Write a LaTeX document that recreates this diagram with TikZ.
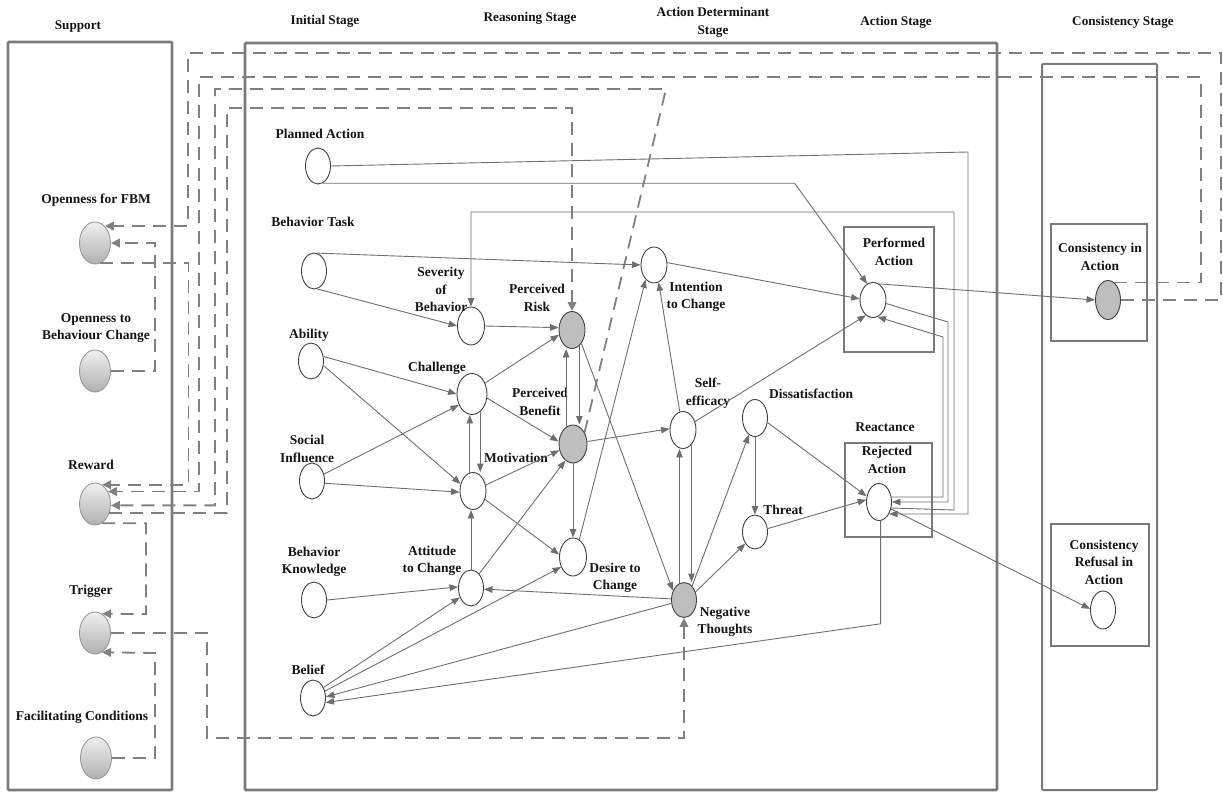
\documentclass[tikz,border=0pt]{standalone}
\usepackage{fontspec}
\setmainfont{Liberation Serif}
\usetikzlibrary{arrows.meta,shapes.geometric}
\definecolor{cl}{HTML}{6E6E6E}
\definecolor{dc}{HTML}{808080}
\definecolor{pc}{HTML}{7A7A7A}
\definecolor{gf}{HTML}{BEBEBE}
\definecolor{tx}{HTML}{141414}
\newcommand\labfont{\fontsize{13.5}{17.5}\selectfont\bfseries}
\newcommand\titfont{\fontsize{13.2}{18}\selectfont\bfseries}
\begin{document}
\begin{tikzpicture}[x=1pt,y=-1pt,
 nd/.style={ellipse, draw=black!75, line width=0.9pt, fill=white, inner sep=0pt, minimum width=25pt, minimum height=36pt},
 gnd/.style={nd, fill=gf},
 snd/.style={ellipse, draw=gray!80, line width=0.9pt, top color=gray!12, bottom color=gray!62, inner sep=0pt, minimum width=31pt, minimum height=42pt},
 lbl/.style={font=\labfont, text=tx, align=center, inner sep=0pt},
 ttl/.style={font=\titfont, text=tx, align=center, inner sep=0pt},
 panel/.style={draw=pc, line width=2.6pt, rounded corners=1pt},
 ibox/.style={draw=pc, line width=2.8pt},
 conn/.style={draw=cl, line width=0.9pt, -{Triangle[length=8.5pt,width=6.5pt]}},
 dl/.style={draw=dc, line width=1.8pt, dash pattern=on 13pt off 8pt, -{Triangle[length=9pt,width=8.5pt]}},
]
\path[use as bounding box] (0,0) rectangle (1223,794);
% panels
\draw[panel] (8,42) rectangle (172,790);
\draw[panel] (245,43) rectangle (997,790);
\draw[panel, line width=2pt] (1042,64) rectangle (1157,790);
\draw[ibox] (844,227) rectangle (934,352);
\draw[ibox] (845,443) rectangle (932,537);
\draw[ibox] (1051,224) rectangle (1147,341);
\draw[ibox] (1051,524) rectangle (1149,646);
% titles
\node[ttl] (tsup) at (78,27) {Support};
\node[ttl] (tini) at (325,21) {Initial Stage};
\node[ttl] (trea) at (530,18) {Reasoning Stage};
\node[ttl] (tdet) at (713,22) {Action Determinant\\Stage};
\node[ttl] (tact) at (896,22) {Action Stage};
\node[ttl] (tcon) at (1123,22) {Consistency Stage};
% nodes
\node[snd] (fbm) at (95,243) {};
\node[snd] (obc) at (95,371) {};
\node[snd] (rw) at (95,504) {};
\node[snd] (tr) at (95,633) {};
\node[snd] (fc) at (96,758) {};
\node[nd] (pa) at (318,166) {};
\node[nd] (bt) at (314,271) {};
\node[nd] (ab) at (311,361) {};
\node[nd] (si) at (312,481) {};
\node[nd] (bk) at (314,600) {};
\node[nd] (bl) at (313,698) {};
\node[nd, minimum width=27pt, minimum height=38pt] (sv) at (471,326) {};
\node[nd, minimum width=30pt, minimum height=41pt] (ch) at (472,394) {};
\node[nd, minimum width=26pt, minimum height=37pt] (mo) at (473,491) {};
\node[nd] (at) at (471,588) {};
\node[gnd, minimum width=26pt, minimum height=37pt] (pr) at (572,330) {};
\node[gnd, minimum width=28pt, minimum height=38pt] (pb) at (573,444) {};
\node[nd, minimum width=27pt, minimum height=38pt] (de) at (573,557) {};
\node[nd, minimum width=26pt] (int) at (654,265) {};
\node[nd, minimum width=26pt, minimum height=37pt] (se) at (683,430) {};
\node[nd, minimum height=37pt] (ds) at (755,418) {};
\node[nd, minimum height=34pt] (th) at (755,532) {};
\node[gnd, minimum height=35pt] (nt) at (684,600) {};
\node[nd, minimum width=26pt, minimum height=35pt] (pf) at (873,300) {};
\node[nd, minimum height=37pt] (rj) at (879,502) {};
\node[gnd, minimum height=39pt] (cia) at (1108,300) {};
\node[nd, minimum height=38pt] (cra) at (1103,610) {};
% labels
\node[lbl] (lfbm) at (96,200) {Openness for FBM};
\node[lbl] (lobc) at (96,328) {Openness to\\Behaviour Change};
\node[lbl] (lrw) at (91,465) {Reward};
\node[lbl] (ltr) at (91,591) {Trigger};
\node[lbl] (lfc) at (82,717) {Facilitating Conditions};
\node[lbl] (lpa) at (320,134) {Planned Action};
\node[lbl] (lbt) at (313,222) {Behavior Task};
\node[lbl] (lab) at (309,335) {Ability};
\node[lbl] (lsi) at (307,449) {Social\\Influence};
\node[lbl] (lbk) at (314,562) {Behavior\\Knowledge};
\node[lbl] (lbl) at (308,670) {Belief};
\node[lbl] (lsv) at (441,289.5) {Severity\\of\\Behavior};
\node[lbl] (lpr) at (537,298) {Perceived\\Risk};
\node[lbl] (lch) at (437,368) {Challenge};
\node[lbl] (lpb) at (540,402) {Perceived\\Benefit};
\node[lbl] (lmo) at (516,458) {Motivation};
\node[lbl] (lat) at (432,561) {Attitude\\to Change};
\node[lbl] (lde) at (615,578) {Desire to\\Change};
\node[lbl] (lint) at (696,297) {Intention\\to Change};
\node[lbl] (lse) at (708,393) {Self-\\efficacy};
\node[lbl] (lds) at (811,394) {Dissatisfaction};
\node[lbl] (lth) at (783,510) {Threat};
\node[lbl] (lnt) at (725,622) {Negative\\Thoughts};
\node[lbl] (lpf) at (894,252) {Performed\\Action};
\node[lbl] (lre) at (885,427) {Reactance};
\node[lbl] (lrj) at (887,460) {Rejected\\Action};
\node[lbl] (lcia) at (1100,257) {Consistency in\\Action};
\node[lbl] (lcra) at (1104,562) {Consistency\\Refusal in\\Action};
% dashed connectors
\draw[dl] (cia.east) -- (1221,300) |- (188,53) |- (fbm.60);
\draw[dl] (cia.70) -- ++(87,0) |- (199,77) |- (rw.44);
\draw[dl] (pb.45) -- (666,89) -- (215,89) |- (rw.-5);
\draw[dl] (rw.-33) -| (227,108) -| (pr.north);
\draw[dl] (rw.-70) -| (146,614) -- (tr.70);
\draw[dl] (fc.east) -| (155,653) -- (tr.-70);
\draw[dl] (obc.east) -| (155,243) -- (fbm.east);
\draw[dl] (fbm.-75) -- ++(88,0) |- (rw.70);
\draw[dl] (tr.east) -- (207,633) |- (684,738) -- (nt.south);
% solid connectors
\draw[conn] (pa.east) -- (968,152) |- (rj.-50);
\draw[conn] (pa.-75) -- ++(472,0) -- (pf.110);
\draw[conn] (bt.80) -- (int.west);
\draw[conn] (bt.-80) -- (sv.west);
\draw[conn] (rj.-26) -- (954,510) |- (471,212) -- (sv.north);
\draw[conn] (pf.-15) -- (948,322) |- (rj.east);
\draw[conn] (rj.22) -| (943,337) -- (pf.-75);
\draw[conn] (sv.east) -- (pr.170);
\draw[conn] (ab.20) -- (ch.west);
\draw[conn] (ab.-20) -- (mo.150);
\draw[conn] (si.30) -- (ch.-140);
\draw[conn] (si.-10) -- (mo.-175);
\draw[conn] (ch.40) -- (pr.-160);
\draw[conn] (ch.-15) -- (pb.170);
\draw[conn] (mo.100) -- (mo.100 |- ch.south);
\draw[conn] (ch.-65) -- (ch.-65 |- mo.north);
\draw[conn] (mo.25) -- (pb.-155);
\draw[conn] (mo.-35) -- (de.170);
\draw[conn] (at.north) -- (at.north |- mo.south);
\draw[conn] (at.60) -- (pb.-115);
\draw[conn] (bk.east) -- (at.175);
\draw[conn] (bl.45) -- (at.-140);
\draw[conn] (bl.30) -- (de.-140);
\draw[conn] (nt.-165) -- (bl.5);
\draw[conn] (rj.-85) -- ++(0,103) -- (bl.-20);
\draw[conn] (nt.175) -- (at.-5);
\draw[conn] (pb.112) -- (pb.112 |- pr.south);
\draw[conn] (pr.-65) -- (pr.-65 |- pb.north);
\draw[conn] (pr.-55) -- (nt.140);
\draw[conn] (pb.south) -- (de.north);
\draw[conn] (pb.10) -- (se.175);
\draw[conn] (de.70) -- (int.-120);
\draw[conn] (se.100) -- (int.-75);
\draw[conn] (int.10) -- (pf.175);
\draw[conn] (se.35) -- (pf.-115);
\draw[conn] (nt.105) -- (nt.105 |- se.south);
\draw[conn] (se.-60) -- (se.-60 |- nt.north);
\draw[conn] (nt.60) -- (ds.-110);
\draw[conn] (ds.south) -- (th.north);
\draw[conn] (nt.35) -- (th.-130);
\draw[conn] (th.15) -- (rj.170);
\draw[conn] (ds.-20) -- (rj.155);
\draw[conn] (pf.70) -- (cia.west);
\draw[conn] (rj.-30) -- (cra.175);
\end{tikzpicture}
\end{document}
